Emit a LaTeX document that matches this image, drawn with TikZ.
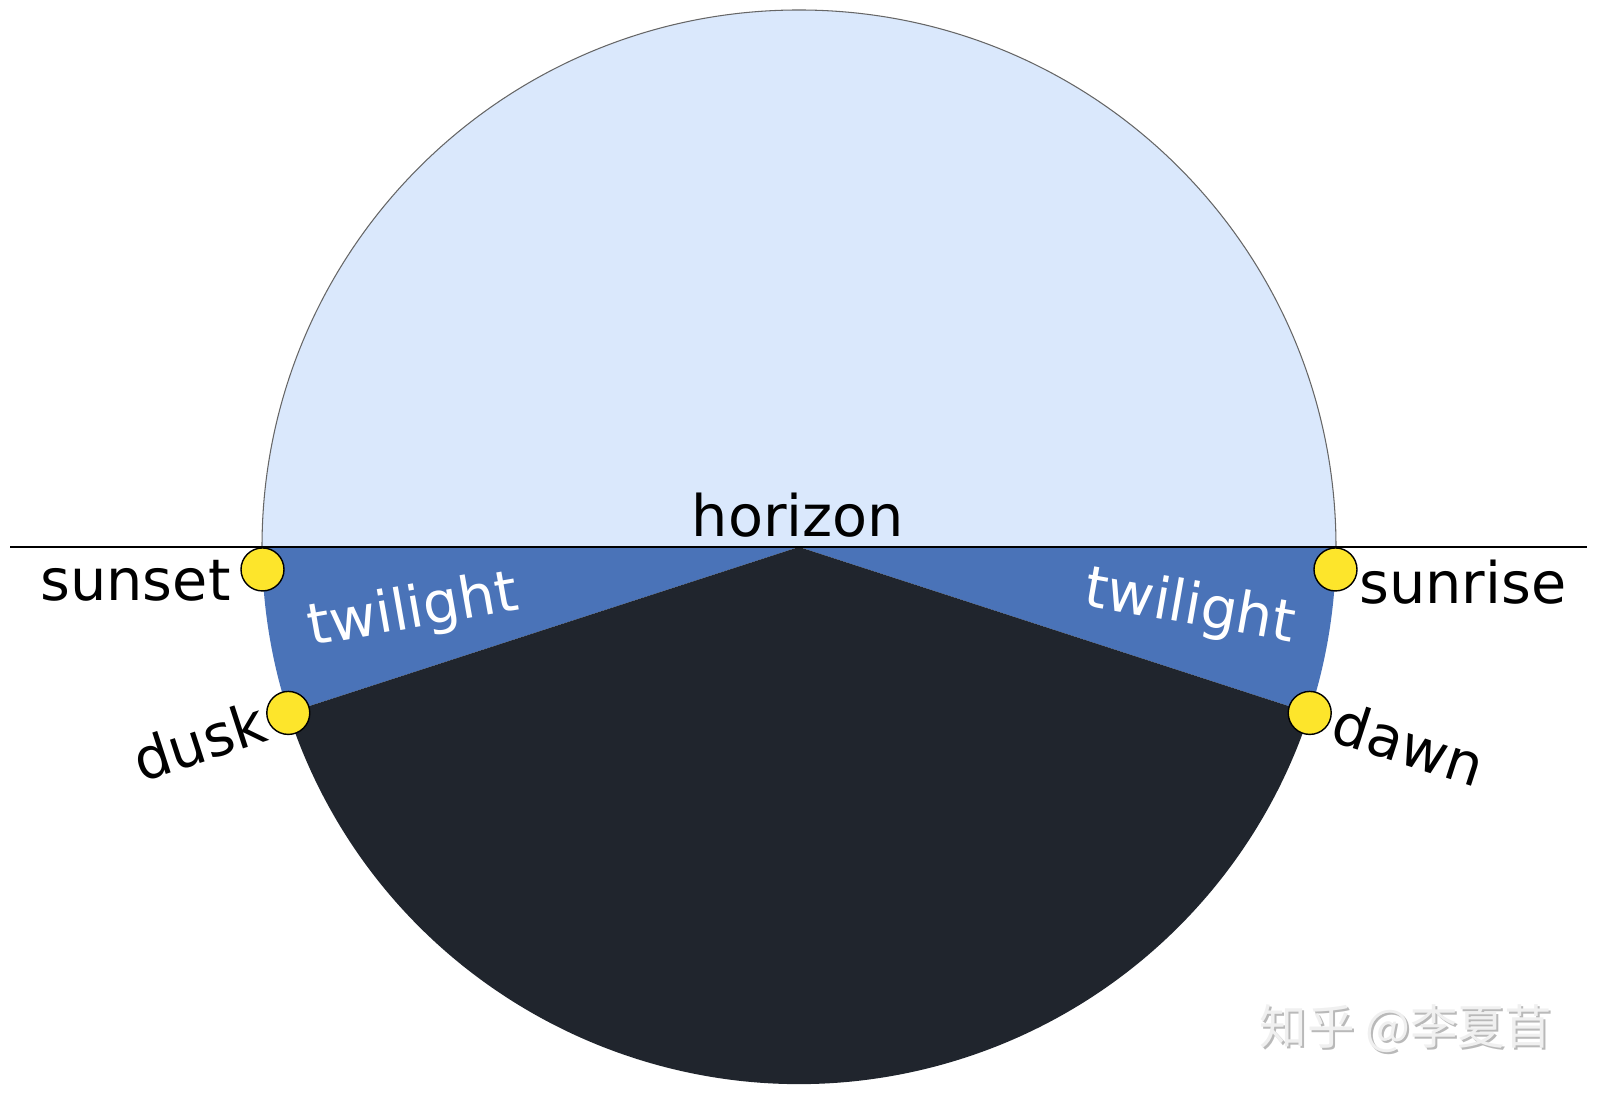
\documentclass[tikz,border=0pt]{standalone}
\usepackage{fontspec}
\setmainfont{DejaVu Sans}
\newfontfamily\cjkfont{Noto Sans CJK SC}
\usetikzlibrary{calc}
\definecolor{skyblue}{HTML}{DAE8FC}
\definecolor{dimblue}{HTML}{4A73B8}
\definecolor{nightsky}{HTML}{20252D}
\definecolor{sunyellow}{HTML}{FDE52B}
\tikzset{
  sun/.style={circle, draw=black, line width=0.4pt, fill=sunyellow, minimum size=0.43cm, inner sep=0pt},
  lbl/.style={font=\fontsize{16.3}{19}\selectfont, inner sep=0pt},
}
\begin{document}
\begin{tikzpicture}

	\useasboundingbox (0,0) rectangle (15.98,10.97);
	\coordinate (C) at (7.99,5.50);

	%Sky
	\fill[skyblue] (C) -- ++(0:5.37) arc (0:180:5.37) -- cycle;
	\draw[gray!80!black, line width=0.3pt] (C) ++(0:5.37) arc (0:180:5.37);

	%Twilight
	\fill[dimblue] (C) -- ++(180:5.37) arc (180:198:5.37) -- cycle;
	\fill[dimblue] (C) -- ++(-18:5.37) arc (-18:0:5.37) -- cycle;

	%Night
	\fill[nightsky] (C) -- ++(198:5.37) arc (198:342:5.37) -- cycle;

	%Horizon
	\coordinate (hl) at (0.10,5.50);
	\coordinate (hr) at (15.87,5.50);
	\draw[black, line width=0.45pt] (hl) -- (hr);
	\node[lbl] (horizon) at (7.98,5.82) {horizon};

	%Suns
	\node[sun] (sunset) at ($(C)+(182.4:5.37)$) {};
	\node[sun] (sunrise) at ($(C)+(-2.4:5.37)$) {};
	\node[sun] (dusk) at ($(C)+(198:5.37)$) {};
	\node[sun] (dawn) at ($(C)+(-18:5.37)$) {};

	%Labels
	\node[lbl] (sunsetlbl) at (1.355,5.16) {sunset};
	\node[lbl] (sunriselbl) at (14.63,5.15) {sunrise};
	\node[lbl, rotate=18] (dusklbl) at (1.99,3.56) {dusk};
	\node[lbl, rotate=-18] (dawnlbl) at (14.09,3.53) {dawn};
	\node[lbl, white, rotate=10] (twilightl) at (4.13,4.85) {twilight};
	\node[lbl, white, rotate=-10] (twilightr) at (11.90,4.89) {twilight};

	%Watermark
	\node[font=\cjkfont\fontsize{13.5}{16}\selectfont, gray!55] (markshadow) at (14.08,0.665) {知乎 @李夏苜};
	\node[font=\cjkfont\fontsize{13.5}{16}\selectfont, gray!12] (mark) at (14.06,0.68) {知乎 @李夏苜};

\end{tikzpicture}
\end{document}
